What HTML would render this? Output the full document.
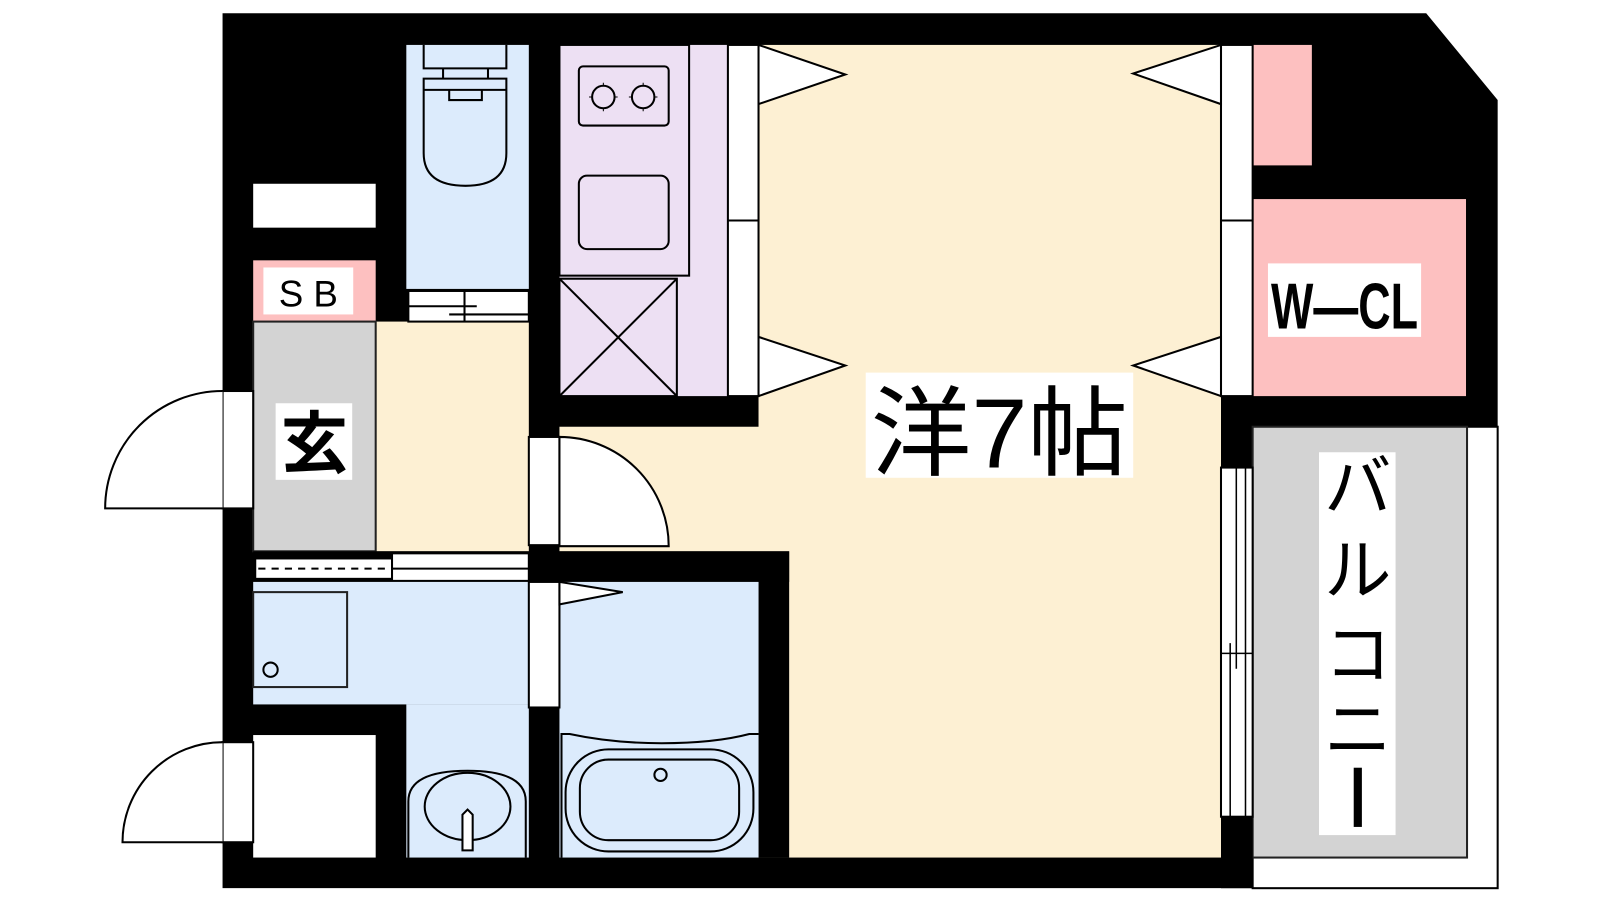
<!DOCTYPE html>
<html><head><meta charset="utf-8"><style>html,body{margin:0;padding:0;background:#fff}svg{display:block}</style></head><body>
<svg width="1600" height="900" viewBox="0 0 1600 900" xmlns="http://www.w3.org/2000/svg" font-family="Liberation Sans, Noto Sans CJK JP, sans-serif">
<g transform="scale(1.0209)">
<path d="M218 13 H1397 L1467 98 V418 H1227 V870 H218 Z" fill="#000"/>
<rect x="743" y="44" width="453" height="796" fill="#FDF0D3"/>
<rect x="548" y="418" width="225" height="122" fill="#FDF0D3"/>
<rect x="368" y="315" width="150" height="225" fill="#FDF0D3"/>
<rect x="1227" y="44" width="58" height="118" fill="#FDC0C0"/>
<rect x="1227" y="195" width="209" height="193" fill="#FDC0C0"/>
<rect x="1227" y="418" width="240" height="452" fill="#fff" stroke="#000" stroke-width="2"/>
<rect x="1227" y="418" width="210" height="422" fill="#D3D3D3" stroke="#222" stroke-width="2"/>
<rect x="1196" y="800" width="31" height="70" fill="#000"/>
<rect x="548" y="44" width="165" height="344" fill="#EDE0F3"/>
<rect x="548" y="44" width="127" height="226" fill="none" stroke="#000" stroke-width="2"/>
<rect x="567" y="65" width="88" height="58" rx="4" fill="none" stroke="#000" stroke-width="2"/>
<circle cx="591" cy="95" r="11" fill="none" stroke="#000" stroke-width="2"/><circle cx="630" cy="95" r="11" fill="none" stroke="#000" stroke-width="2"/>
<path d="M591 81 V109 M577 95 H605 M630 81 V109 M616 95 H644" stroke="#000" stroke-width="1" stroke-dasharray="3 22 3 0"/>
<rect x="567" y="172" width="88" height="72" rx="8" fill="none" stroke="#000" stroke-width="2"/>
<rect x="548" y="273" width="115" height="115" fill="none" stroke="#000" stroke-width="2"/>
<path d="M548 273 L663 388 M663 273 L548 388" stroke="#000" stroke-width="2"/>
<rect x="713" y="44" width="30" height="344" fill="#fff" stroke="#000" stroke-width="2"/><line x1="713" y1="216" x2="743" y2="216" stroke="#000" stroke-width="2"/>
<path d="M743 44 L828 73 L743 102 Z M743 330 L828 358 L743 388 Z" fill="#fff" stroke="#000" stroke-width="2"/>
<rect x="1196" y="44" width="31" height="344" fill="#fff" stroke="#000" stroke-width="2"/><line x1="1196" y1="216" x2="1227" y2="216" stroke="#000" stroke-width="2"/>
<path d="M1196 44 L1110 72 L1196 102 Z M1196 330 L1110 358 L1196 388 Z" fill="#fff" stroke="#000" stroke-width="2"/>
<rect x="1196" y="458" width="31" height="342" fill="#fff" stroke="#000" stroke-width="2"/>
<path d="M1211 458 V655 M1220 458 V800 M1205 630 V800 M1196 640 H1227" stroke="#000" stroke-width="1.5" fill="none"/>
<rect x="398" y="44" width="120" height="239" fill="#DCEBFC"/>
<path d="M415 44 V67 H496 V44 M415 77 H496 V150 Q496 182 456 182 Q415 182 415 150 Z M415 88 H496 M440 88 V98 H472 V88 M434 67 V77 M478 67 V77" fill="none" stroke="#000" stroke-width="2"/>
<rect x="400" y="285" width="118" height="30" fill="#fff" stroke="#000" stroke-width="2"/>
<path d="M400 300 H467 M440 308 H518 M455 285 V315" stroke="#000" stroke-width="2"/>
<rect x="248" y="180" width="120" height="43" fill="#fff"/>
<rect x="248" y="255" width="120" height="60" fill="#FDC0C0"/>
<rect x="258" y="262" width="88" height="46" fill="#fff"/>
<text x="302" y="300" font-size="36" text-anchor="middle">S B</text>
<rect x="248" y="315" width="120" height="225" fill="#D3D3D3" stroke="#222" stroke-width="2"/>
<rect x="270" y="395" width="75" height="75" fill="#fff"/>
<text x="308" y="458" font-size="66" text-anchor="middle" font-weight="bold">玄</text>
<rect x="218" y="383" width="30" height="115" fill="#fff" stroke="#000" stroke-width="2"/>
<path d="M218 383 A115 115 0 0 0 103 498 H218" fill="#fff" stroke="#000" stroke-width="2"/>
<rect x="248" y="540" width="270" height="30" fill="#000"/>
<rect x="251" y="548" width="133" height="18" fill="#fff"/>
<line x1="253" y1="557" x2="382" y2="557" stroke="#000" stroke-width="2" stroke-dasharray="7 6"/>
<rect x="384" y="542" width="134" height="27" fill="#fff" stroke="#000" stroke-width="2"/>
<line x1="384" y1="557" x2="518" y2="557" stroke="#000" stroke-width="2"/>
<rect x="248" y="570" width="270" height="120" fill="#DCEBFC"/>
<rect x="398" y="690" width="120" height="150" fill="#DCEBFC"/>
<rect x="248" y="720" width="120" height="120" fill="#fff"/>
<rect x="248" y="580" width="92" height="93" fill="none" stroke="#222" stroke-width="2"/>
<circle cx="265" cy="656" r="7" fill="none" stroke="#000" stroke-width="2"/>
<path d="M400 840 V785 Q400 755 458 755 Q515 755 515 785 V840" fill="none" stroke="#000" stroke-width="2"/>
<ellipse cx="458" cy="790" rx="42" ry="33" fill="none" stroke="#000" stroke-width="2"/>
<path d="M453 833 V798 L458 793 L463 798 V833 Z" fill="#fff" stroke="#000" stroke-width="2"/>
<rect x="218" y="727" width="30" height="98" fill="#fff" stroke="#000" stroke-width="2"/>
<path d="M218 727 A98 98 0 0 0 120 825 H218" fill="#fff" stroke="#000" stroke-width="2"/>
<rect x="518" y="428" width="30" height="106" fill="#fff" stroke="#000" stroke-width="2"/>
<path d="M548 428 A107 107 0 0 1 655 535 H548 Z" fill="#fff" stroke="#000" stroke-width="2"/>
<rect x="518" y="540" width="255" height="30" fill="#000"/>
<rect x="743" y="540" width="30" height="300" fill="#000"/>
<rect x="548" y="570" width="195" height="270" fill="#DCEBFC"/>
<rect x="518" y="570" width="30" height="123" fill="#fff" stroke="#000" stroke-width="2"/>
<path d="M548 570 L610 580 L548 592 Z" fill="#fff" stroke="#000" stroke-width="2"/>
<path d="M550 840 V719 H558 Q600 728 648 728 Q700 728 734 719 H743" fill="none" stroke="#000" stroke-width="2"/>
<rect x="554" y="734" width="184" height="100" rx="42" fill="none" stroke="#000" stroke-width="2"/>
<rect x="568" y="744" width="156" height="79" rx="28" fill="none" stroke="#000" stroke-width="2"/>
<circle cx="647" cy="759" r="6" fill="none" stroke="#000" stroke-width="2"/>
<rect x="848" y="365" width="262" height="103" fill="#fff"/>
<text x="979" y="458" font-size="96" text-anchor="middle" textLength="252" lengthAdjust="spacingAndGlyphs">洋7帖</text>
<rect x="1242" y="258" width="150" height="72" fill="#fff"/>
<text x="1317" y="322" font-size="64" text-anchor="middle" font-weight="bold" textLength="144" lengthAdjust="spacingAndGlyphs">W—CL</text>
<rect x="1292" y="443" width="75" height="375" fill="#fff"/>
<text x="1330" y="500" font-size="66" text-anchor="middle">バ</text>
<text x="1330" y="582" font-size="66" text-anchor="middle">ル</text>
<text x="1330" y="664" font-size="66" text-anchor="middle">コ</text>
<text x="1330" y="738" font-size="66" text-anchor="middle">ニ</text>
<rect x="1326" y="752" width="8" height="58" fill="#000"/>
</g>
</svg>
</body></html>
